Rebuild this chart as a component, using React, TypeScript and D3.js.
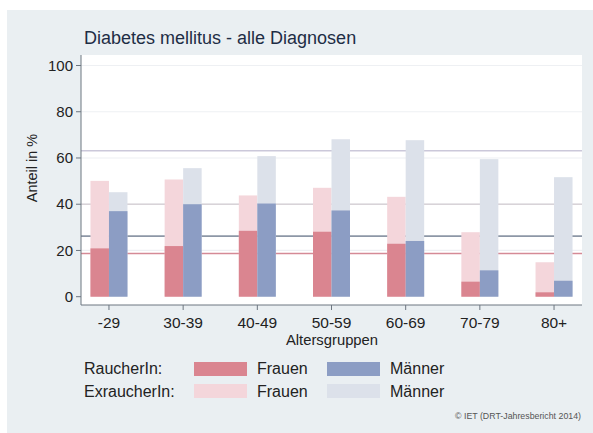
import React from "react";
import * as d3 from "d3";

const categories = ["-29", "30-39", "40-49", "50-59", "60-69", "70-79", "80+"];
const raucherFrauen = [20.9, 21.9, 28.5, 28.1, 22.9, 6.5, 1.9];
const raucherMaenner = [37.0, 40.0, 40.3, 37.3, 24.1, 11.4, 6.9];
const exFrauen = [50.1, 50.7, 43.8, 47.1, 43.2, 27.9, 14.9];
const exMaenner = [45.2, 55.6, 60.8, 68.1, 67.7, 59.5, 51.7];
const yTicks = [0, 20, 40, 60, 80, 100];
const refValues = [63.1, 40, 26.2, 18.7];
const refColors = ["#cbc8da", "#d8d3d8", "#8d97a6", "#d58a96"];

const C = {
  bg: "#eaeff2",
  rf: "#da8590",
  rm: "#8c9dc4",
  ef: "#f4d6db",
  em: "#dce1ea",
  text: "#1e2d45",
  axis: "#6d7680",
};

export default function App() {
  const W = 593, H = 433;
  const left = 81, right = 582, top = 55, axisY = 305;
  const x = d3.scalePoint<string>().domain(categories).range([left, right]).padding(0.377);
  const y = d3.scaleLinear().domain([0, 100]).range([296.7, 65.5]);
  const bw = 18.5;
  const font = "'Liberation Sans', Arial, sans-serif";

  const bars = (vals: number[], color: string, side: number) =>
    vals.map((v, i) => {
      const cx = x(categories[i])!;
      const x0 = side < 0 ? cx - bw : cx;
      return <rect key={color + i} x={x0} y={y(v)} width={bw} height={y(0) - y(v)} fill={color} />;
    });

  return (
    <svg width={W} height={H} style={{ position: "absolute", left: 0, top: 0 }}>
      <rect x={0} y={0} width={W} height={H} fill="#ffffff" />
      <rect x={7} y={10} width={W - 7} height={H - 10} fill={C.bg} />
      <text x={84} y={44} fontFamily={font} fontSize={18} fill={C.text}>
        Diabetes mellitus - alle Diagnosen
      </text>
      <rect x={left} y={top} width={right - left} height={axisY - top} fill="#ffffff" />
      {yTicks.filter((t) => t > 0).map((t) => (
        <line key={"g" + t} x1={left} x2={right} y1={y(t)} y2={y(t)} stroke="#eef0f3" strokeWidth={1.2} />
      ))}
      {refValues.map((v, i) => (
        <line key={"r" + i} x1={left} x2={right} y1={y(v)} y2={y(v)} stroke={refColors[i]} strokeWidth={1.6} />
      ))}
      {bars(exFrauen, C.ef, -1)}
      {bars(exMaenner, C.em, 1)}
      {bars(raucherFrauen, C.rf, -1)}
      {bars(raucherMaenner, C.rm, 1)}
      <line x1={left} x2={left} y1={top} y2={axisY} stroke={C.axis} strokeWidth={1} />
      <line x1={left} x2={right} y1={axisY} y2={axisY} stroke={C.axis} strokeWidth={1} />
      {yTicks.map((t) => (
        <g key={"yt" + t}>
          <line x1={left - 5} x2={left} y1={y(t)} y2={y(t)} stroke={C.axis} />
          <text x={left - 8} y={y(t)} dy="0.35em" textAnchor="end" fontFamily={font} fontSize={15} fill="#222">
            {t}
          </text>
        </g>
      ))}
      {categories.map((c) => (
        <g key={"xt" + c}>
          <line x1={x(c)!} x2={x(c)!} y1={axisY} y2={axisY + 5} stroke={C.axis} />
          <text x={x(c)!} y={328} textAnchor="middle" fontFamily={font} fontSize={15.5} fill="#222">
            {c}
          </text>
        </g>
      ))}
      <text x={(left + right) / 2 + 0.5} y={345} textAnchor="middle" fontFamily={font} fontSize={14.8} fill="#222">
        Altersgruppen
      </text>
      <text
        transform={`translate(37,168) rotate(-90)`}
        textAnchor="middle"
        fontFamily={font}
        fontSize={14.5}
        fill="#222"
      >
        Anteil in %
      </text>
      {/* legend */}
      <text x={84} y={374} fontFamily={font} fontSize={16} fill="#222">RaucherIn:</text>
      <text x={84} y={397} fontFamily={font} fontSize={16} fill="#222">ExraucherIn:</text>
      <rect x={194} y={362} width={53} height={14} fill={C.rf} />
      <rect x={194} y={384} width={53} height={14} fill={C.ef} />
      <rect x={327} y={362} width={53} height={14} fill={C.rm} />
      <rect x={327} y={384} width={53} height={14} fill={C.em} />
      <text x={257} y={374} fontFamily={font} fontSize={16} fill="#222">Frauen</text>
      <text x={257} y={397} fontFamily={font} fontSize={16} fill="#222">Frauen</text>
      <text x={390} y={374} fontFamily={font} fontSize={16} fill="#222">Männer</text>
      <text x={390} y={397} fontFamily={font} fontSize={16} fill="#222">Männer</text>
      <text x={581} y={419} textAnchor="end" fontFamily={font} fontSize={8.8} fill="#555">
        © IET (DRT-Jahresbericht 2014)
      </text>
    </svg>
  );
}
